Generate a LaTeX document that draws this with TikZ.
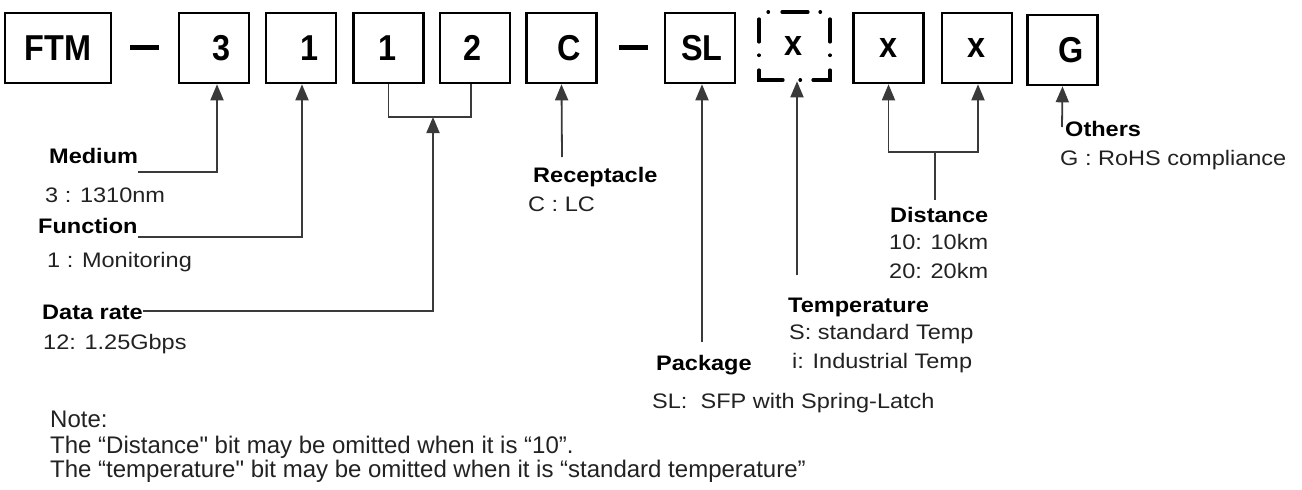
\documentclass[tikz,border=0pt]{standalone}
\usepackage{fontspec}
\setmainfont{Liberation Sans}
\newfontfamily\lblf[FakeStretch=1.12]{Liberation Sans}
\newfontfamily\boxf[FakeStretch=0.9]{Liberation Sans}
\usetikzlibrary{arrows.meta}
\definecolor{linec}{HTML}{3A3A3A}
\definecolor{txtc}{HTML}{222222}
\begin{document}
\begin{tikzpicture}[x=1pt,y=-1pt,
  cbox/.style={draw=black,line width=2.6pt,minimum width=70pt,minimum height=70pt,inner sep=0pt},
  btxt/.style={font=\boxf\fontsize{36}{36}\selectfont\bfseries,text=black},
  dashbar/.style={fill=black,minimum width=29pt,minimum height=5pt,inner sep=0pt},
  dseg/.style={line width=3.2pt,line cap=round},
  head/.style={font=\lblf\fontsize{21}{24}\selectfont\bfseries,text=black,inner sep=0pt,anchor=base west},
  val/.style={font=\lblf\fontsize{21}{24}\selectfont,text=txtc,inner sep=0pt,anchor=base west},
  note/.style={font=\fontsize{24}{27}\selectfont,text=txtc,inner sep=0pt,anchor=base west},
  conn/.style={draw=linec,line width=1.8pt},
  arr/.style={conn,-{Triangle[length=16pt,width=13pt]}}]
\useasboundingbox (0,0) rectangle (1302,490);
\fill[white] (0,0) rectangle (1302,490);
% code boxes
\node[cbox,minimum width=106pt,btxt] (ftm) at (58,48) {FTM};
\node[dashbar] (d1) at (144.5,47) {};
\node[cbox,label={[btxt,xshift=8pt]center:3}] (b3) at (214,48) {};
\node[cbox,label={[btxt,xshift=9pt]center:1}] (b1a) at (301,48) {};
\node[cbox,label={[btxt,xshift=-1pt]center:1}] (b1b) at (388.5,48) {};
\node[cbox,label={[btxt,xshift=-2pt]center:2}] (b2) at (475,48) {};
\node[cbox,label={[btxt,xshift=8pt]center:C}] (bc) at (561.5,48) {};
\node[dashbar] (d2) at (633,47) {};
\node[cbox,label={[btxt,xshift=2pt]center:SL}] (bsl) at (700,48) {};
\node[cbox,draw=none,minimum width=71pt,minimum height=68pt,label={[btxt,xshift=-1pt]center:x}] (bt) at (794.5,46) {};
% dash-dot outline of the optional temperature box
\draw[dseg] (768,12) -- (768.5,12);
\draw[dseg] (782,12) -- (808,12);
\draw[dseg] (820,12) -- (820.5,12);
\draw[dseg] (759,19) -- (759,42);
\draw[dseg] (759,55) -- (759,55.5);
\draw[dseg] (759,70) -- (759,80) -- (783,80);
\draw[dseg] (800,80) -- (800.5,80);
\draw[dseg] (813,80) -- (830,80) -- (830,70);
\draw[dseg] (830,55) -- (830,55.5);
\draw[dseg] (830,19) -- (830,42);
\node[cbox,label={[btxt]center:x}] (bx1) at (888.5,48) {};
\node[cbox,label={[btxt]center:x}] (bx2) at (977,48) {};
\node[cbox,label={[btxt,xshift=9pt]center:G}] (bg) at (1062.5,50) {};
% labels
\node[head] (medium) at (49,163) {Medium};
\node[val] (mediumv) at (45,202) {3 : 1310nm};
\node[head] (func) at (38,233) {Function};
\node[val] (funcv) at (47,267) {1 : Monitoring};
\node[head] (rate) at (42,319) {Data rate};
\node[val] (ratev) at (43,349) {12: 1.25Gbps};
\node[head] (recept) at (533,182) {Receptacle};
\node[val] (receptv) at (528,211) {C : LC};
\node[head] (pack) at (656,370) {Package};
\node[val] (packv) at (652,408) {SL:\ \ SFP with Spring-Latch};
\node[head] (temp) at (788,312) {Temperature};
\node[val] (tempv1) at (789,339) {S: standard Temp};
\node[val] (tempv2) at (792,368) {i: Industrial Temp};
\node[head] (dist) at (890,222) {Distance};
\node[val] (distv1) at (889,249) {10: 10km};
\node[val] (distv2) at (889,278) {20: 20km};
\node[head] (others) at (1065,136) {Others};
\node[val] (othersv) at (1060,165) {G : RoHS compliance};
\node[note] (n1) at (50,427) {Note:};
\node[note] (n2) at (50,453) {The “Distance\textquotedbl{} bit may be omitted when it is “10”.};
\node[note] (n3) at (50,477) {The “temperature\textquotedbl{} bit may be omitted when it is “standard temperature”};
% connectors
\draw[arr] ([yshift=-9pt]medium.base east) -| ([xshift=3pt]b3.south);
\draw[arr] ([yshift=-4pt]func.base east) -| ([xshift=1pt]b1a.south);
\coordinate (br) at (433,117);
\draw[conn] (b1b.south) |- (br) -| ([xshift=-4pt]b2.south);
\draw[arr] ([yshift=8pt]rate.base east) -| (br);
\coordinate (rc) at (562,157);
\draw[arr] (rc) -- (bc.south);
\coordinate (pk) at (702,342);
\draw[arr] (pk) -- ([xshift=2pt]bsl.south);
\coordinate (tp) at (797,275);
\draw[arr] (tp) -- ([xshift=2.5pt]bt.south);
\coordinate (dm) at (935,152);
\coordinate (dd) at (935,200);
\draw[conn] (dd) -- (dm);
\draw[arr] (dm) -| (bx1.south);
\draw[arr] (dm) -| ([xshift=1pt]bx2.south);
\coordinate (ot) at (1062,127);
\draw[arr] (ot) -- (bg.south);
\end{tikzpicture}
\end{document}
